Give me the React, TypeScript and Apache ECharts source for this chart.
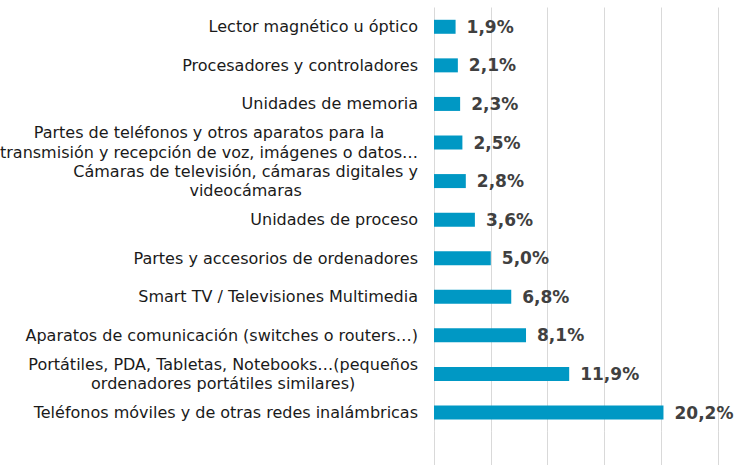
import React, { useEffect, useRef } from "react";
import * as echarts from "echarts";

const categories: string[] = [
  "Lector magnético u óptico",
  "Procesadores y controladores",
  "Unidades de memoria",
  "Partes de teléfonos y otros aparatos para la\ntransmisión y recepción de voz, imágenes o datos…",
  "Cámaras de televisión, cámaras digitales y\nvideocámaras",
  "Unidades de proceso",
  "Partes y accesorios de ordenadores",
  "Smart TV / Televisiones Multimedia",
  "Aparatos de comunicación (switches o routers…)",
  "Portátiles, PDA, Tabletas, Notebooks…(pequeños\nordenadores portátiles similares)",
  "Teléfonos móviles y de otras redes inalámbricas",
];

const values: number[] = [1.9, 2.1, 2.3, 2.5, 2.8, 3.6, 5.0, 6.8, 8.1, 11.9, 20.2];

const FONT = "DejaVu Sans, Verdana, sans-serif";

export default function App() {
  const ref = useRef<HTMLDivElement>(null);
  useEffect(() => {
    if (!ref.current) return;
    const chart = echarts.init(ref.current, undefined, { renderer: "svg" });
    const gridLine = { show: true, lineStyle: { color: "#d9d9d9", width: 1 } };
    chart.setOption({
      animation: false,
      backgroundColor: "#ffffff",
      grid: [
        { left: 434, right: 16, top: 7.5, height: 424.3, containLabel: false, outerBoundsMode: "none" },
        { left: 434, right: 16, top: 431.8, bottom: 0, containLabel: false, outerBoundsMode: "none" },
      ],
      xAxis: [
        {
          gridIndex: 0,
          type: "value",
          min: 0,
          max: 25,
          interval: 5,
          axisLabel: { show: false },
          axisLine: { show: false },
          axisTick: { show: false },
          splitLine: gridLine,
        },
        {
          gridIndex: 1,
          type: "value",
          min: 0,
          max: 25,
          interval: 5,
          axisLabel: { show: false },
          axisLine: { show: false },
          axisTick: { show: false },
          splitLine: gridLine,
        },
      ],
      yAxis: [
        {
          gridIndex: 0,
          type: "category",
          inverse: true,
          data: categories,
          axisLine: { show: false },
          axisTick: { show: false },
          splitLine: { show: false },
          axisLabel: {
            margin: 16,
            align: "right",
            formatter: (v: string) =>
              v
                .split("\n")
                .map((l) => `{c|${l}}`)
                .join("\n"),
            rich: {
              c: {
                align: "center",
                fontFamily: FONT,
                fontSize: 16,
                lineHeight: 19.5,
                color: "#1a1a1a",
              },
            },
          },
        },
        {
          gridIndex: 1,
          type: "value",
          min: 0,
          max: 1,
          show: false,
        },
      ],
      series: [
        {
          type: "bar",
          xAxisIndex: 0,
          yAxisIndex: 0,
          data: values,
          barWidth: 14,
          itemStyle: { color: "#0098C4" },
          label: {
            show: true,
            position: "right",
            distance: 11,
            fontFamily: FONT,
            fontWeight: "bold",
            fontSize: 17,
            color: "#404040",
            formatter: (p: any) => p.value.toFixed(1).replace(".", ",") + "%",
          },
        },
      ],
    });
    return () => chart.dispose();
  }, []);
  return (
    <div
      ref={ref}
      style={{ width: 734, height: 465, position: "absolute", left: 0, top: 0 }}
    />
  );
}
